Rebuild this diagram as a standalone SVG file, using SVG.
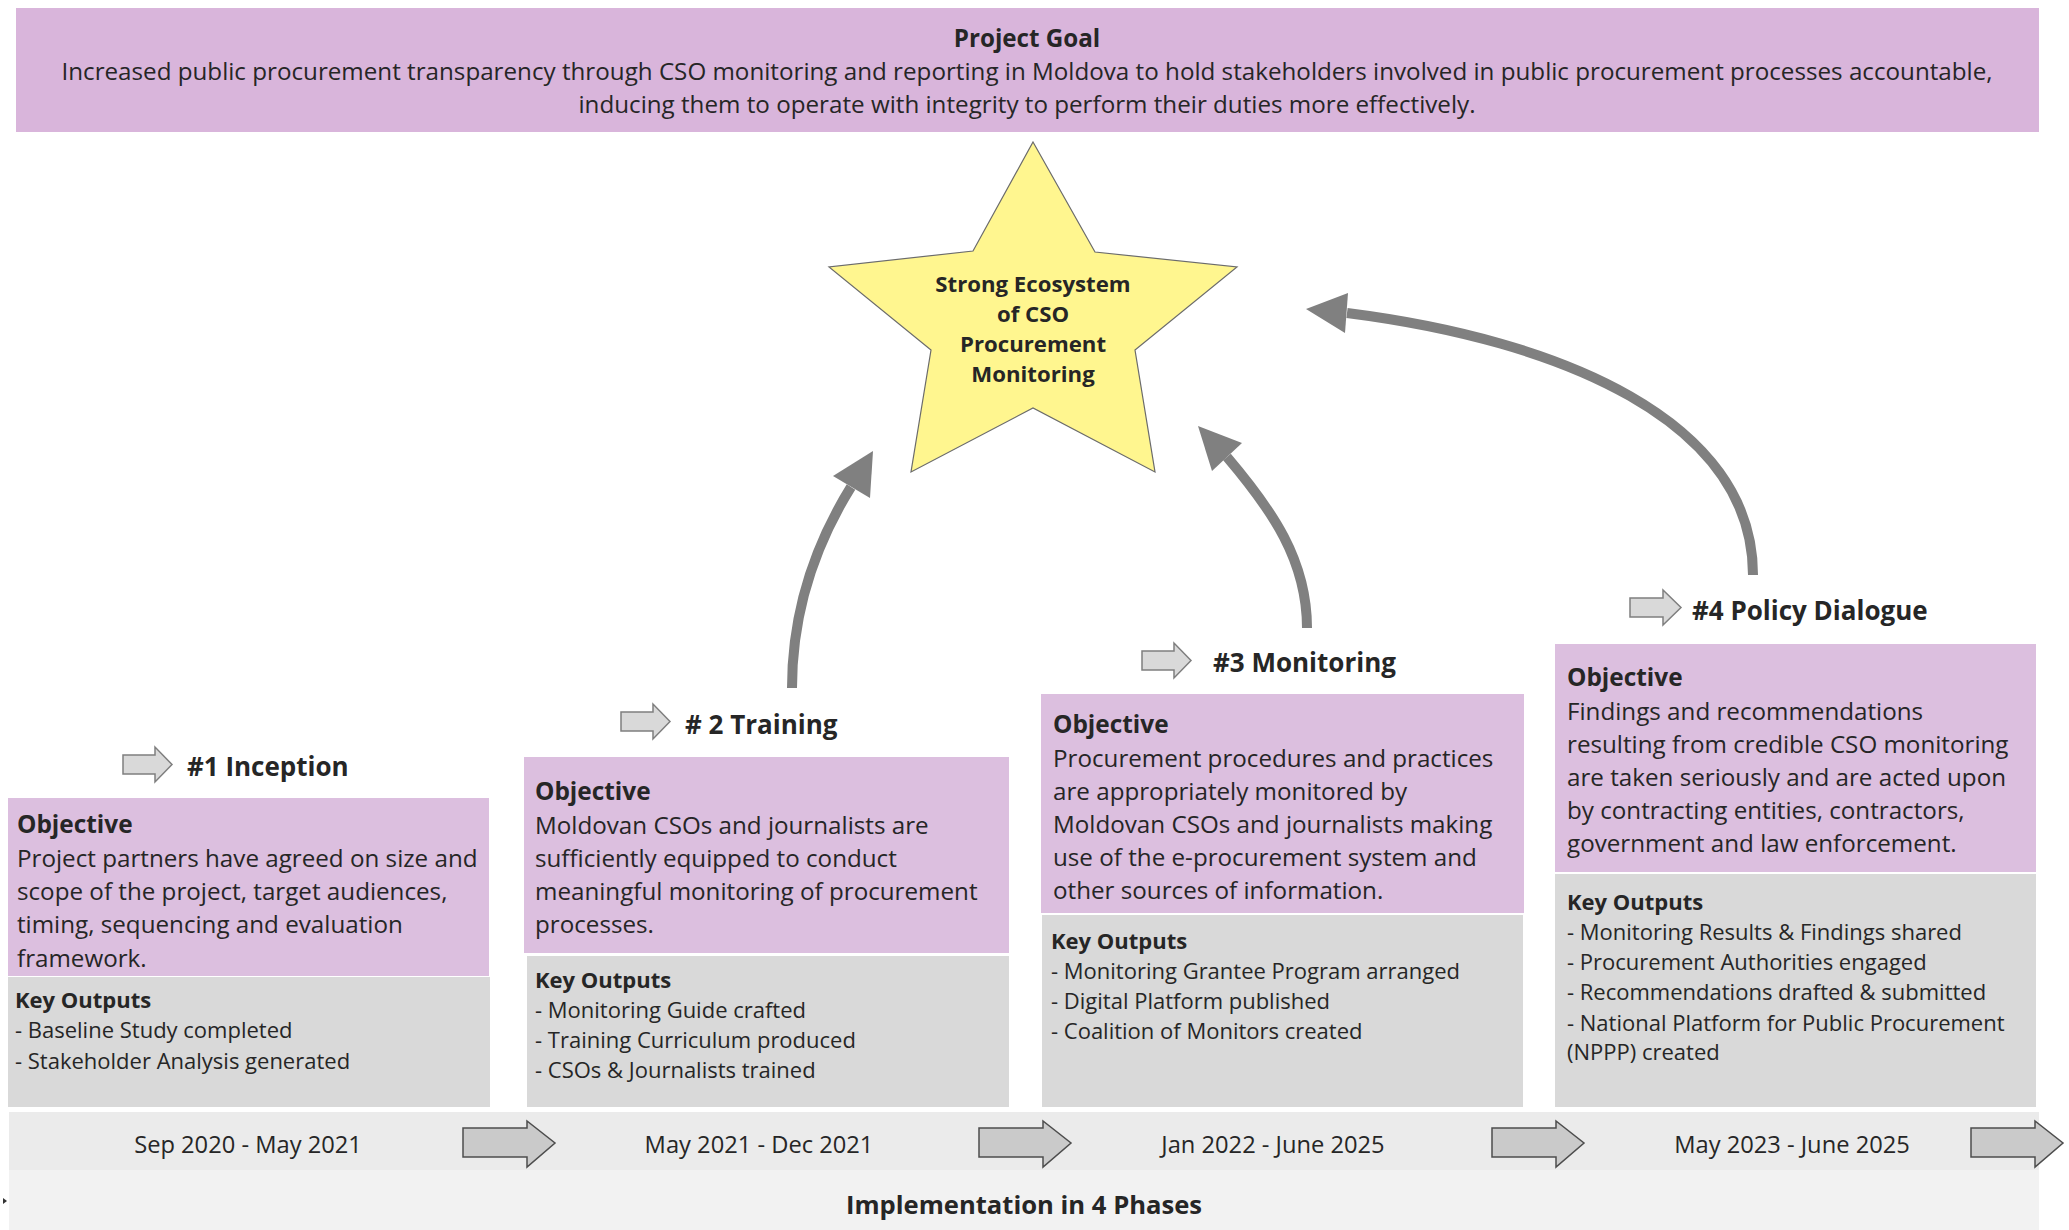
<svg xmlns="http://www.w3.org/2000/svg" width="2069" height="1230" viewBox="0 0 2069 1230">
<style>
text{font-family:"Open Sans","Noto Sans","Liberation Sans",sans-serif;fill:#262626;transform:translate(0px,1.5px)}
.b{font-weight:bold}
.goal{font-size:24.2px}
.obj{font-size:24.2px}
.objh{font-size:24.4px;font-weight:bold}
.ko{font-size:22px}
.koh{font-size:22px;font-weight:bold}
.ph{font-size:26px;font-weight:bold}
.star{font-size:22.2px;font-weight:bold}
.date{font-size:23.7px}
.impl{font-size:25.6px;font-weight:bold}
.pink{fill:#dcbfdf}
.grey{fill:#d9d9d9}
.harrow{fill:#d9d9d9;stroke:#7f7f7f;stroke-width:1.5}
.tarrow{fill:#cacaca;stroke:#4d4d4d;stroke-width:1.5}
.conn{fill:none;stroke:#808080;stroke-width:10}
.head{fill:#808080}
</style>
<rect width="2069" height="1230" fill="#ffffff"/>

<g id="goal">
<rect x="16" y="8" width="2023" height="124" fill="#d9b5db"/>
<text class="goal b" x="1027" y="45" text-anchor="middle">Project Goal</text>
<text class="goal" x="1027" y="78" text-anchor="middle">Increased public procurement transparency through CSO monitoring and reporting in Moldova to hold stakeholders involved in public procurement processes accountable,</text>
<text class="goal" x="1027" y="111" text-anchor="middle">inducing them to operate with integrity to perform their duties more effectively.</text>
</g>

<g id="star">
<polygon points="1033,142 1095,252 1237,267 1135,350 1155,472 1033,408 911,472 931,350 829,267 973,251" fill="#fff68f" stroke="#6b6b6b" stroke-width="1.2"/>
<text class="star" x="1033" y="290" text-anchor="middle">Strong Ecosystem</text>
<text class="star" x="1033" y="320" text-anchor="middle">of CSO</text>
<text class="star" x="1033" y="350" text-anchor="middle">Procurement</text>
<text class="star" x="1033" y="380" text-anchor="middle">Monitoring</text>
</g>

<g id="connectors">
<path class="conn" d="M792,688 C792,610 815,545 851,487"/>
<polygon class="head" points="873,451 833,476 870,498"/>
<path class="conn" d="M1307,628 C1307,560 1272,510 1227,457"/>
<polygon class="head" points="1198,426 1212,471 1242,443"/>
<path class="conn" d="M1753,575 C1753,420 1560,340 1347,313"/>
<polygon class="head" points="1306,309 1348,293 1345,333"/>
</g>

<g id="phase1">
<polygon class="harrow" points="123,755 155,755 155,747 172,764.5 155,782 155,774 123,774"/>
<text class="ph" x="187" y="774">#1 Inception</text>
<rect class="pink" x="8" y="798" width="481" height="178"/>
<rect class="grey" x="8" y="977" width="482" height="130"/>
<text class="objh" x="17" y="831">Objective</text>
<text class="obj" x="17" y="865">Project partners have agreed on size and</text>
<text class="obj" x="17" y="898">scope of the project, target audiences,</text>
<text class="obj" x="17" y="931">timing, sequencing and evaluation</text>
<text class="obj" x="17" y="965">framework.</text>
<text class="koh" x="15" y="1006">Key Outputs</text>
<text class="ko" x="15" y="1036">- Baseline Study completed</text>
<text class="ko" x="15" y="1067">- Stakeholder Analysis generated</text>
</g>

<g id="phase2">
<polygon class="harrow" points="621,712 653,712 653,704 670,721.5 653,739 653,731 621,731"/>
<text class="ph" x="685" y="732"># 2 Training</text>
<rect class="pink" x="524" y="757" width="485" height="196"/>
<rect class="grey" x="527" y="956" width="482" height="151"/>
<text class="objh" x="535" y="798">Objective</text>
<text class="obj" x="535" y="832">Moldovan CSOs and journalists are</text>
<text class="obj" x="535" y="865">sufficiently equipped to conduct</text>
<text class="obj" x="535" y="898">meaningful monitoring of procurement</text>
<text class="obj" x="535" y="931">processes.</text>
<text class="koh" x="535" y="986">Key Outputs</text>
<text class="ko" x="535" y="1016">- Monitoring Guide crafted</text>
<text class="ko" x="535" y="1046">- Training Curriculum produced</text>
<text class="ko" x="535" y="1076">- CSOs &amp; Journalists trained</text>
</g>

<g id="phase3">
<polygon class="harrow" points="1142,651 1174,651 1174,643 1191,660.5 1174,678 1174,670 1142,670"/>
<text class="ph" x="1213" y="670">#3 Monitoring</text>
<rect class="pink" x="1041" y="694" width="483" height="219"/>
<rect class="grey" x="1042" y="915" width="481" height="192"/>
<text class="objh" x="1053" y="731">Objective</text>
<text class="obj" x="1053" y="765">Procurement procedures and practices</text>
<text class="obj" x="1053" y="798">are appropriately monitored by</text>
<text class="obj" x="1053" y="831">Moldovan CSOs and journalists making</text>
<text class="obj" x="1053" y="864">use of the e-procurement system and</text>
<text class="obj" x="1053" y="897">other sources of information.</text>
<text class="koh" x="1051" y="947">Key Outputs</text>
<text class="ko" x="1051" y="977">- Monitoring Grantee Program arranged</text>
<text class="ko" x="1051" y="1007">- Digital Platform published</text>
<text class="ko" x="1051" y="1037">- Coalition of Monitors created</text>
</g>

<g id="phase4">
<polygon class="harrow" points="1630,598 1663,598 1663,590 1681,607.5 1663,625 1663,617 1630,617"/>
<text class="ph" x="1692" y="618">#4 Policy Dialogue</text>
<rect class="pink" x="1555" y="644" width="481" height="228"/>
<rect class="grey" x="1555" y="874" width="481" height="233"/>
<text class="objh" x="1567" y="684">Objective</text>
<text class="obj" x="1567" y="718">Findings and recommendations</text>
<text class="obj" x="1567" y="751">resulting from credible CSO monitoring</text>
<text class="obj" x="1567" y="784">are taken seriously and are acted upon</text>
<text class="obj" x="1567" y="817">by contracting entities, contractors,</text>
<text class="obj" x="1567" y="850">government and law enforcement.</text>
<text class="koh" x="1567" y="908">Key Outputs</text>
<text class="ko" x="1567" y="938">- Monitoring Results &amp; Findings shared</text>
<text class="ko" x="1567" y="968">- Procurement Authorities engaged</text>
<text class="ko" x="1567" y="998">- Recommendations drafted &amp; submitted</text>
<text class="ko" x="1567" y="1029">- National Platform for Public Procurement</text>
<text class="ko" x="1567" y="1058">(NPPP) created</text>
</g>

<g id="timeline">
<rect x="9" y="1112" width="2030" height="58" fill="#ebebeb"/>
<rect x="9" y="1170" width="2030" height="60" fill="#f2f2f2"/>
<text class="date" x="248" y="1151" text-anchor="middle">Sep 2020 - May 2021</text>
<text class="date" x="759" y="1151" text-anchor="middle">May 2021 - Dec 2021</text>
<text class="date" x="1273" y="1151" text-anchor="middle">Jan 2022 - June 2025</text>
<text class="date" x="1792" y="1151" text-anchor="middle">May 2023 - June 2025</text>
<polygon class="tarrow" points="463,1128 527,1128 527,1121 555,1143 527,1167 527,1157 463,1157"/>
<polygon class="tarrow" points="979,1128 1043,1128 1043,1121 1071,1143 1043,1167 1043,1157 979,1157"/>
<polygon class="tarrow" points="1492,1128 1556,1128 1556,1121 1584,1143 1556,1167 1556,1157 1492,1157"/>
<polygon class="tarrow" points="1971,1128 2035,1128 2035,1121 2063,1143 2035,1167 2035,1157 1971,1157"/>
<text class="impl" x="1024" y="1212" text-anchor="middle">Implementation in 4 Phases</text>
<polygon points="3,1198 7,1201 3,1204" fill="#333"/>
</g>
</svg>
